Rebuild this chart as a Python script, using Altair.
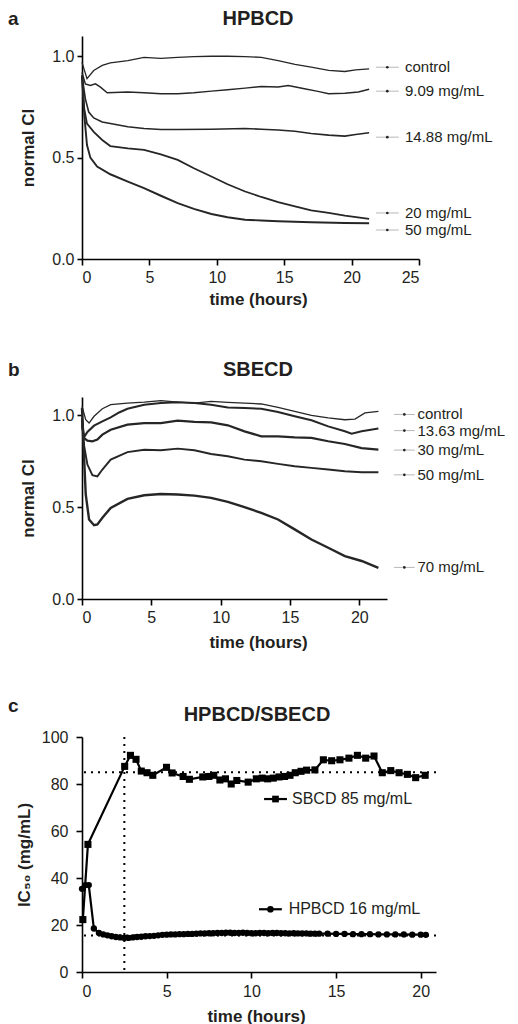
import altair as alt
import pandas as pd

FONT = "Liberation Sans"
INK = "#231f20"

# ---------------- panel a: HPBCD, normal cell index ----------------
a_names = ["control", "9.09 mg/mL", "14.88 mg/mL", "20 mg/mL", "50 mg/mL"]
a_widths = [1.3, 2.4, 1.2, 1.1, 1.4]

a_control_t = [0, 0.37, 0.87, 1.5, 2.1, 3.4, 4.6, 5.85, 7.1, 8.3, 9.6, 10.8, 12.1, 13.3, 14.55, 15.8, 17.0, 18.3, 19.5, 20.3, 21.3]
a_control_v = [0.97, 0.89, 0.93, 0.955, 0.967, 0.979, 0.995, 0.99, 0.995, 0.998, 1.0, 1.0, 0.998, 0.995, 0.979, 0.96, 0.946, 0.93, 0.925, 0.933, 0.938]

a_909_t = [0, 0.25, 0.62, 1.0, 1.37, 1.87, 3.4, 4.6, 5.85, 7.1, 8.3, 9.6, 10.8, 12.1, 13.3, 14.55, 15.3, 16.5, 17.5, 18.3, 19.5, 20.5, 21.3]
a_909_v = [0.92, 0.864, 0.856, 0.864, 0.848, 0.82, 0.824, 0.82, 0.815, 0.815, 0.82, 0.828, 0.835, 0.843, 0.851, 0.848, 0.856, 0.84, 0.827, 0.815, 0.818, 0.824, 0.837]

a_1488_t = [0, 0.25, 0.5, 0.87, 1.5, 2.1, 3.4, 4.6, 5.85, 7.1, 9.6, 12.1, 13.3, 14.55, 15.8, 17.0, 18.3, 19.5, 20.3, 21.3]
a_1488_v = [0.905, 0.79, 0.725, 0.696, 0.676, 0.668, 0.652, 0.644, 0.639, 0.639, 0.64, 0.644, 0.64, 0.636, 0.63, 0.619, 0.611, 0.606, 0.614, 0.623]

a_20_t = [0, 0.17, 0.37, 0.87, 1.5, 2.1, 3.4, 4.6, 5.85, 7.1, 8.3, 9.6, 10.8, 12.1, 13.3, 14.55, 15.8, 17.0, 18.3, 19.5, 21.3]
a_20_v = [0.905, 0.74, 0.668, 0.627, 0.587, 0.557, 0.546, 0.538, 0.516, 0.489, 0.448, 0.407, 0.369, 0.333, 0.306, 0.281, 0.26, 0.24, 0.227, 0.214, 0.198]

a_50_t = [0, 0.17, 0.37, 0.62, 1.12, 2.1, 3.4, 4.6, 5.85, 7.1, 8.3, 9.6, 10.8, 12.1, 13.3, 14.55, 17.0, 19.5, 21.3]
a_50_v = [0.905, 0.71, 0.562, 0.5, 0.456, 0.418, 0.382, 0.35, 0.312, 0.276, 0.247, 0.222, 0.206, 0.194, 0.19, 0.186, 0.181, 0.178, 0.176]

a_label_v = [0.946, 0.828, 0.601, 0.227, 0.143]
a_label_seg = [21.8, 23.5]
a_label_text_t = 23.96

# ---------------- panel b: SBECD, normal cell index ----------------
b_names = ["control", "13.63 mg/mL", "30 mg/mL", "50 mg/mL", "70 mg/mL"]
b_widths = [1.3, 2.4, 1.2, 1.2, 1.2]

b_control_t = [0, 0.27, 0.51, 0.87, 1.47, 2.07, 3.28, 4.49, 5.69, 6.9, 8.11, 9.31, 10.52, 11.72, 12.93, 14.14, 15.34, 16.55, 17.76, 18.96, 19.69, 20.41, 21.38]
b_control_v = [1.049, 0.976, 0.958, 0.995, 1.036, 1.058, 1.067, 1.072, 1.08, 1.072, 1.067, 1.076, 1.071, 1.067, 1.062, 1.043, 1.022, 1.0, 0.986, 0.976, 0.98, 1.013, 1.022]

b_1363_t = [0, 0.14, 0.39, 0.87, 1.47, 2.07, 2.68, 3.28, 4.49, 5.69, 6.9, 8.11, 9.31, 10.52, 11.72, 12.93, 14.14, 15.34, 16.55, 17.76, 18.96, 19.45, 20.17, 21.38]
b_1363_v = [0.95, 0.88, 0.91, 0.944, 0.967, 0.989, 1.016, 1.036, 1.058, 1.067, 1.071, 1.067, 1.058, 1.043, 1.04, 1.036, 1.018, 0.995, 0.973, 0.94, 0.913, 0.9, 0.913, 0.928]

b_30_t = [0, 0.14, 0.39, 0.75, 1.11, 1.47, 2.07, 3.28, 4.49, 5.69, 6.9, 8.11, 9.31, 10.52, 11.72, 12.93, 14.14, 15.34, 16.55, 17.76, 18.96, 20.17, 21.38]
b_30_v = [0.976, 0.877, 0.862, 0.859, 0.868, 0.895, 0.922, 0.949, 0.958, 0.958, 0.971, 0.964, 0.962, 0.946, 0.913, 0.886, 0.886, 0.88, 0.877, 0.859, 0.844, 0.822, 0.813]

b_50_t = [0, 0.14, 0.39, 0.75, 1.11, 1.47, 2.07, 3.28, 4.49, 5.69, 6.9, 8.11, 9.31, 10.52, 11.72, 12.93, 14.14, 15.34, 16.55, 17.76, 18.96, 20.17, 21.38]
b_50_v = [0.985, 0.84, 0.732, 0.674, 0.668, 0.705, 0.759, 0.80, 0.813, 0.81, 0.819, 0.81, 0.79, 0.777, 0.759, 0.75, 0.736, 0.723, 0.714, 0.705, 0.696, 0.69, 0.69]

b_70_t = [0, 0.14, 0.27, 0.51, 0.87, 1.11, 1.47, 2.07, 3.28, 4.49, 5.69, 6.9, 8.11, 9.31, 10.52, 11.72, 12.93, 14.14, 15.34, 16.55, 17.76, 18.96, 20.17, 21.38]
b_70_v = [1.04, 0.786, 0.569, 0.433, 0.402, 0.406, 0.442, 0.496, 0.545, 0.565, 0.572, 0.569, 0.563, 0.551, 0.529, 0.5, 0.469, 0.433, 0.379, 0.324, 0.279, 0.234, 0.207, 0.17]

b_label_v = [1.005, 0.917, 0.811, 0.676, 0.172]
b_label_seg = [22.5, 24.0]
b_label_text_t = 24.2

# ---------------- panel c: IC50 over time ----------------
sb_t = [0.05, 0.35, 2.52, 2.86, 3.19, 3.5, 3.84, 4.18, 4.99, 5.32, 5.97, 6.34, 7.13, 7.49, 7.78, 8.14, 8.47, 8.81, 9.14, 9.81,
        10.29, 10.64, 10.96, 11.29, 11.63, 11.96, 12.28, 12.59, 12.93, 13.26, 13.75, 14.25, 14.74, 15.23, 15.76, 16.26,
        16.75, 17.24, 17.73, 18.23, 18.72, 19.21, 19.7, 20.26]
sb_v = [22.3, 54.3, 87.5, 92.2, 90.5, 85.5, 84.8, 83.7, 87.1, 84.7, 83.2, 82.0, 83.0, 83.2, 83.7, 81.7, 82.2, 80.0, 81.5, 80.8,
        82.2, 82.5, 82.2, 82.5, 83.0, 83.2, 83.7, 84.8, 85.4, 85.9, 86.0, 90.3, 89.9, 90.3, 91.0, 92.2,
        91.0, 91.9, 84.8, 85.7, 84.8, 84.1, 82.7, 83.7]

hp_t = [0, 0.2, 0.4, 0.7, 1.0, 1.25, 1.5, 1.75, 2.0, 2.25, 2.5, 2.75, 3.0, 3.25, 3.5, 3.75, 4.0, 4.25, 4.5, 4.75,
        5.0, 5.25, 5.5, 5.75, 6.0, 6.25, 6.5, 6.75, 7.0, 7.25, 7.5, 7.75, 8.0, 8.25, 8.5, 8.75, 9.0, 9.25, 9.5, 9.75,
        10.0, 10.25, 10.5, 10.75, 11.0, 11.25, 11.5, 11.75, 12.0, 12.25, 12.5, 12.75, 13.0, 13.25, 13.5, 13.75, 14.0,
        14.5, 15.0, 15.5, 16.0, 16.5, 17.0, 17.5, 18.0, 18.5, 19.0, 19.5, 20.0, 20.3]
hp_v = [35.4, 37.0, 37.0, 18.5, 16.6, 16.0, 15.6, 15.2, 14.9, 14.7, 14.5, 14.5, 14.7, 14.9, 15.0, 15.2, 15.3, 15.4, 15.6, 15.8,
        15.9, 16.0, 16.0, 16.1, 16.1, 16.2, 16.2, 16.3, 16.4, 16.4, 16.5, 16.5, 16.6, 16.6, 16.7, 16.7, 16.6, 16.6, 16.7, 16.6,
        16.5, 16.5, 16.6, 16.6, 16.5, 16.6, 16.6, 16.5, 16.5, 16.4, 16.5, 16.4, 16.4, 16.4, 16.3, 16.3, 16.3,
        16.3, 16.2, 16.2, 16.1, 16.1, 16.1, 16.0, 16.0, 16.0, 16.0, 15.9, 15.9, 15.8]

c_names = ["SBCD 85 mg/mL", "HPBCD 16 mg/mL"]
c_label_v = [73.6, 26.7]
c_label_seg_start = [10.75, 10.45]
c_label_seg_end = [12.1, 11.8]
c_label_text_t = [12.4, 12.2]
ref_time = [2.5]
ref_ic50 = [85, 15.5]


def long_frame(names, times, values):
    rows = []
    for name, ts, vs in zip(names, times, values):
        rows += [{"series": name, "t": t, "v": v} for t, v in zip(ts, vs)]
    return pd.DataFrame(rows)


def heading(letter, title, title_x, letter_y, title_y):
    lt = alt.Chart(pd.DataFrame({"s": [letter]})).mark_text(
        align="left", baseline="alphabetic", font=FONT, fontSize=19, fontWeight="bold", color=INK
    ).encode(x=alt.value(-74), y=alt.value(letter_y), text="s:N")
    tt = alt.Chart(pd.DataFrame({"s": [title]})).mark_text(
        align="center", baseline="alphabetic", font=FONT, fontSize=20, fontWeight="bold", color=INK
    ).encode(x=alt.value(title_x), y=alt.value(title_y), text="s:N")
    return lt + tt


def ci_panel(df, names, widths, label_v, seg, text_t, x_max, x_ticks, w, h, letter, title, head_y, x_title_y):
    xs = alt.Scale(domain=[0, x_max], nice=False, zero=False)
    ys = alt.Scale(domain=[0, 1.1], nice=False)
    lines = alt.Chart(df).mark_line(color="#262626", clip=False).encode(
        x=alt.X("t:Q", scale=xs, axis=alt.Axis(values=x_ticks, title="time (hours)", titleX=176,
                                                titleY=x_title_y, titleBaseline="alphabetic",
                                                tickSize=6, labelPadding=4)),
        y=alt.Y("v:Q", scale=ys, axis=alt.Axis(values=[0, 0.5, 1.0], format=".1f", title="normal CI",
                                                tickSize=5, labelPadding=3, titlePadding=14)),
        detail="series:N",
        strokeWidth=alt.StrokeWidth("series:N", scale=alt.Scale(domain=names, range=widths), legend=None),
    )
    lab = pd.DataFrame({"series": names, "y": label_v, "x1": seg[0], "x2": seg[1],
                        "xm": (seg[0] + seg[1]) / 2, "xt": text_t})
    seg_rule = alt.Chart(lab).mark_rule(color="#b8b8b8", strokeWidth=1).encode(
        x=alt.X("x1:Q", scale=xs), x2="x2:Q", y=alt.Y("y:Q", scale=ys))
    seg_dot = alt.Chart(lab).mark_point(filled=True, size=7, color="#222", opacity=1).encode(
        x=alt.X("xm:Q", scale=xs), y=alt.Y("y:Q", scale=ys))
    seg_text = alt.Chart(lab).mark_text(align="left", baseline="middle", font=FONT, fontSize=15, color=INK).encode(
        x=alt.X("xt:Q", scale=xs), y=alt.Y("y:Q", scale=ys), text="series:N")
    return alt.layer(lines, seg_rule, seg_dot, seg_text,
                     heading(letter, title, 176, head_y, head_y)).properties(width=w, height=h)


df_a = long_frame(a_names,
                  [a_control_t, a_909_t, a_1488_t, a_20_t, a_50_t],
                  [a_control_v, a_909_v, a_1488_v, a_20_v, a_50_v])
df_b = long_frame(b_names,
                  [b_control_t, b_1363_t, b_30_t, b_50_t, b_70_t],
                  [b_control_v, b_1363_v, b_30_v, b_50_v, b_70_v])

panel_a = ci_panel(df_a, a_names, a_widths, a_label_v, a_label_seg, a_label_text_t,
                   25, [0, 5, 10, 15, 20, 25], 337, 223, "a", "HPBCD", -11.5, 45)
panel_b = ci_panel(df_b, b_names, b_widths, b_label_v, b_label_seg, b_label_text_t,
                   22, [0, 5, 10, 15, 20], 305, 202, "b", "SBECD", -21, 48)

# ---------------- panel c ----------------
xs_c = alt.Scale(domain=[0, 20.9], nice=False)
ys_c = alt.Scale(domain=[0, 100], nice=False)
df_sb = pd.DataFrame({"t": sb_t, "v": sb_v})
df_hp = pd.DataFrame({"t": hp_t, "v": hp_v})

sb_line = alt.Chart(df_sb).mark_line(color="black", strokeWidth=2.2).encode(
    x=alt.X("t:Q", scale=xs_c, axis=alt.Axis(values=[0, 5, 10, 15, 20], title="time (hours)", titleX=174,
                                              titleY=49, titleBaseline="alphabetic", tickSize=6, labelPadding=5)),
    y=alt.Y("v:Q", scale=ys_c, axis=alt.Axis(values=[0, 20, 40, 60, 80, 100], title="IC₅₀ (mg/mL)",
                                              tickSize=6, labelPadding=8, titlePadding=8)),
)
sb_pts = alt.Chart(df_sb).mark_point(shape="square", filled=True, size=50, color="black", opacity=1).encode(
    x=alt.X("t:Q", scale=xs_c), y=alt.Y("v:Q", scale=ys_c))
hp_line = alt.Chart(df_hp).mark_line(color="black", strokeWidth=2.2).encode(
    x=alt.X("t:Q", scale=xs_c), y=alt.Y("v:Q", scale=ys_c))
hp_pts = alt.Chart(df_hp).mark_point(shape="circle", filled=True, size=40, color="black", opacity=1).encode(
    x=alt.X("t:Q", scale=xs_c), y=alt.Y("v:Q", scale=ys_c))

ref_v = alt.Chart(pd.DataFrame({"t": ref_time})).mark_rule(
    color="black", strokeWidth=2, strokeDash=[2, 5]).encode(x=alt.X("t:Q", scale=xs_c))
ref_h = alt.Chart(pd.DataFrame({"v": ref_ic50})).mark_rule(
    color="black", strokeWidth=2, strokeDash=[2, 5]).encode(y=alt.Y("v:Q", scale=ys_c))

c_lab = pd.DataFrame({"series": c_names, "y": c_label_v, "x1": c_label_seg_start, "x2": c_label_seg_end,
                      "xt": c_label_text_t, "shape": ["square", "circle"]})
c_lab["xm"] = (c_lab["x1"] + c_lab["x2"]) / 2
c_seg = alt.Chart(c_lab).mark_rule(color="black", strokeWidth=2.2).encode(
    x=alt.X("x1:Q", scale=xs_c), x2="x2:Q", y=alt.Y("y:Q", scale=ys_c))
c_mark = alt.Chart(c_lab).mark_point(filled=True, size=45, color="black", opacity=1).encode(
    x=alt.X("xm:Q", scale=xs_c), y=alt.Y("y:Q", scale=ys_c),
    shape=alt.Shape("shape:N", scale=None))
c_text = alt.Chart(c_lab).mark_text(align="left", baseline="middle", font=FONT, fontSize=16, color=INK).encode(
    x=alt.X("xt:Q", scale=xs_c), y=alt.Y("y:Q", scale=ys_c), text="series:N")

panel_c = alt.layer(sb_line, ref_v, ref_h, sb_pts, hp_line, hp_pts, c_seg, c_mark, c_text,
                    heading("c", "HPBCD/SBECD", 175, -25, -16)).properties(width=354, height=235)

chart = alt.vconcat(panel_a, panel_b, panel_c, spacing=138, bounds="flush", padding=0).configure_view(
    stroke=None
).configure_axis(
    grid=False, domainColor="black", domainWidth=1.6, tickColor="black", tickWidth=1.6,
    labelFont=FONT, labelFontSize=16, labelColor=INK,
    titleFont=FONT, titleFontSize=17, titleFontWeight="bold", titleColor=INK,
)

chart.save("out.html", embed_options={"renderer": "svg", "actions": False})
